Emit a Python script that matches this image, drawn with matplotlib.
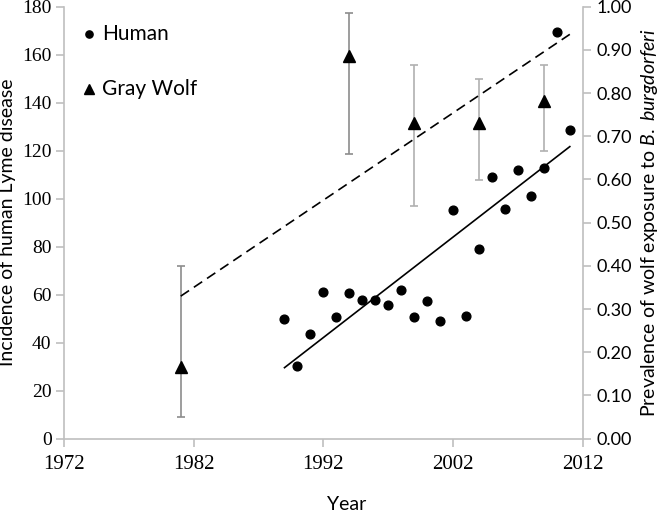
import numpy as np
import matplotlib
matplotlib.use('Agg')
from matplotlib import pyplot as plt

# 人間のライム病発生率 (左軸)
human_years = [1989, 1990, 1991, 1992, 1993, 1994, 1995, 1996, 1997, 1998, 1999, 2000,
               2001, 2002, 2003, 2004, 2005, 2006, 2007, 2008, 2009, 2010, 2011]
human_incidence = [49.7, 30.4, 43.6, 61.0, 50.7, 60.7, 57.8, 57.8, 55.7, 61.8, 50.7, 57.4,
                   49.2, 95.4, 51.3, 78.9, 109.0, 95.6, 112.1, 101.3, 112.6, 169.5, 128.5]

# オオカミの曝露率 (右軸)
wolf_years = [1981, 1994, 1999, 2004, 2009]
wolf_prev = [0.167, 0.886, 0.730, 0.730, 0.782]
wolf_upper = [0.400, 0.985, 0.865, 0.833, 0.865]
wolf_lower = [0.050, 0.660, 0.538, 0.598, 0.667]
wolf_bar_colors = ['#8c8c8c', '#8c8c8c', '#b0b0b0', '#b0b0b0', '#b0b0b0']

# 回帰直線の端点
human_trend_x = [1989, 2011]
human_trend_y = [29.6, 121.7]
wolf_trend_x = [1981, 2011]
wolf_trend_y = [0.330, 0.936]

x_ticks = [1972, 1982, 1992, 2002, 2012]
left_ticks = [0, 20, 40, 60, 80, 100, 120, 140, 160, 180]
right_ticks = [0.0, 0.1, 0.2, 0.3, 0.4, 0.5, 0.6, 0.7, 0.8, 0.9, 1.0]

plt.rcParams['mathtext.fontset'] = 'custom'
plt.rcParams['mathtext.rm'] = 'Lato'
plt.rcParams['mathtext.it'] = 'Lato:italic'

axis_gray = '#bfbfbf'
label_font = dict(family='Lato', size=14)
tick_font = 'Liberation Serif'

fig = plt.figure(figsize=(6.6, 5.14), dpi=100)
ax = fig.add_axes([0.097, 0.1465, 0.786, 0.8405])
ax2 = ax.twinx()

# 人間のデータ
ax.plot(human_years, human_incidence, 'o', color='black', markersize=6.3, zorder=3)
ax.plot(human_trend_x, human_trend_y, '-', color='black', linewidth=1.2)

# オオカミのデータ
for yr, p, hi, lo, c in zip(wolf_years, wolf_prev, wolf_upper, wolf_lower, wolf_bar_colors):
    ax2.errorbar([yr], [p], yerr=[[p - lo], [hi - p]], fmt='none', ecolor=c,
                 elinewidth=1.2, capsize=3, capthick=1.2, zorder=2)
ax2.plot(wolf_years, wolf_prev, '^', color='black', markersize=8.5, zorder=3)
ax2.plot(wolf_trend_x, wolf_trend_y, '--', color='black', linewidth=1.2, dashes=(6, 3.5))

ax.set_xlim(1972, 2012)
ax.set_ylim(0, 180)
ax2.set_ylim(0, 1.0)
ax.set_xticks(x_ticks)
ax.set_yticks(left_ticks)
ax2.set_yticks(right_ticks)
ax.set_xticklabels([str(t) for t in x_ticks], fontfamily=tick_font, fontsize=15)
ax.set_yticklabels([str(t) for t in left_ticks], fontfamily=tick_font, fontsize=14)
ax2.set_yticklabels(['%.2f' % t for t in right_ticks], fontfamily='Lato', fontsize=13)

for a in (ax, ax2):
    a.spines['top'].set_visible(False)
    for s in ('left', 'right', 'bottom'):
        a.spines[s].set_color(axis_gray)
        a.spines[s].set_linewidth(1.2)
ax.spines['right'].set_visible(False)
ax2.spines['left'].set_visible(False)
ax2.spines['bottom'].set_visible(False)

ax.tick_params(axis='x', direction='out', length=6, color=axis_gray, width=1.2, pad=6)
ax.tick_params(axis='y', direction='out', length=6, color=axis_gray, width=1.2, pad=3)
ax2.tick_params(axis='y', direction='out', length=6, color=axis_gray, width=1.2, pad=4)

ax.set_ylabel('Incidence of human Lyme disease', **label_font, labelpad=4)
ax2.set_ylabel(r'Prevalence of wolf exposure to $\it{B.\ burgdorferi}$', **label_font, labelpad=5)
fig.text(347 / 660, 1 - 505 / 514, 'Year', ha='center', va='center', **label_font)

# 凡例
ax.plot([1973.9], [168.6], 'o', color='black', markersize=5.2, clip_on=False)
ax.text(1974.9, 168.6, 'Human', va='center', family='Lato', size=15)
ax.plot([1973.9], [145.5], '^', color='black', markersize=6.5, clip_on=False)
ax.text(1974.9, 145.5, 'Gray Wolf', va='center', family='Lato', size=15)

fig.savefig('out.png', dpi=100)
